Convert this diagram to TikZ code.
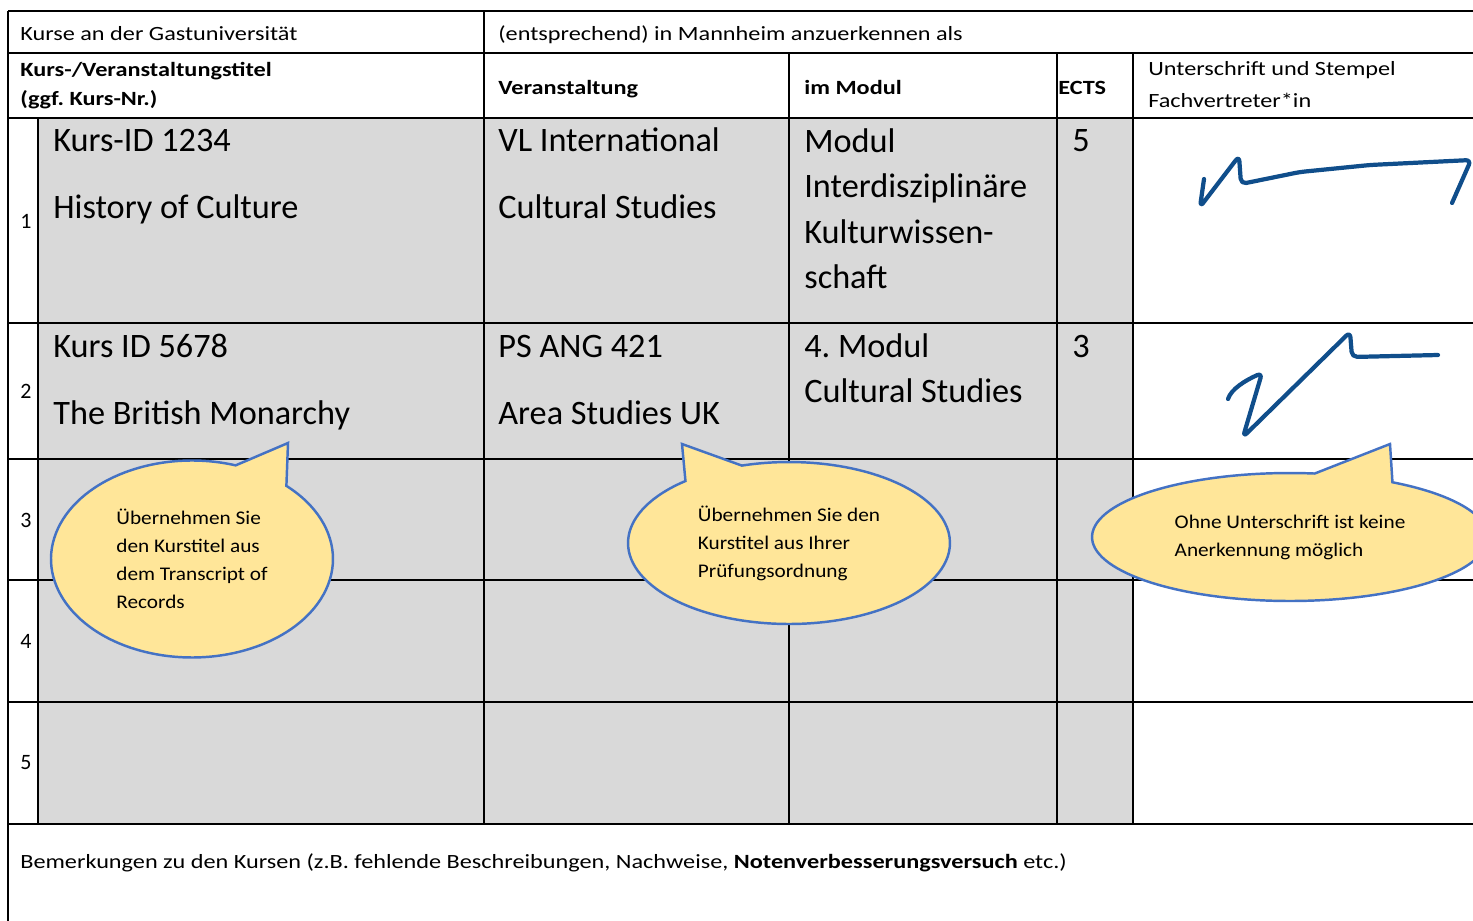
\documentclass[tikz,border=0pt]{standalone}
\usepackage{fontspec}
\setmainfont{Carlito}
\newfontfamily\wideface[FakeStretch=1.2]{Carlito}
\newfontfamily\bubbleface[FakeStretch=1.1]{Carlito}
\usetikzlibrary{shapes.callouts}

\begin{document}
\begin{tikzpicture}
    [x=0.02cm, y=-0.02cm,
    border/.style={line width=1.2pt},
    small/.style={anchor=base west, inner sep=0pt, font=\wideface\fontsize{11.5}{14}\selectfont},
    head/.style={small, font=\wideface\fontsize{11.5}{14}\selectfont\bfseries},
    big/.style={anchor=base west, inner sep=0pt, font=\fontsize{19.5}{24}\selectfont},
    num/.style={inner sep=0pt, font=\fontsize{12.5}{14}\selectfont},
    bubble/.style={ellipse callout, draw=bubbleline, fill=bubblefill, line width=1.4pt,
        inner sep=0pt, align=left, font=\bubbleface\fontsize{11}{15.9}\selectfont},
    sig/.style={draw=sigblue, line width=2.4pt, line cap=round, line join=round, rounded corners=3pt},
    ]
    \definecolor{cellgray}{RGB}{217,217,217}
    \definecolor{bubblefill}{RGB}{255,230,153}
    \definecolor{bubbleline}{RGB}{68,114,196}
    \definecolor{sigblue}{RGB}{16,78,139}

    \useasboundingbox (0,0) rectangle (1473,920);
    \clip (0,0) rectangle (1473,920);

    % grey cells
    \fill[cellgray] (38,118) rectangle (1133,824);

    % rules
    \draw[border] (8,11) -- (1480,11);
    \foreach \y in {53,118,323,459,580,702,824}
        \draw[border] (8,\y) -- (1480,\y);
    \draw[border] (8,11) -- (8,930);
    \draw[border] (484,11) -- (484,824);
    \draw[border] (38,118) -- (38,824);
    \foreach \x in {789,1057,1133}
        \draw[border] (\x,53) -- (\x,824);

    % header
    \node[small] (gast) at (20,40) {Kurse an der Gastuniversität};
    \node[small] (mannheim) at (498,40) {(entsprechend) in Mannheim anzuerkennen als};
    \node[head] (titel) at (20,76) {Kurs-/Veranstaltungstitel};
    \node[head] (kursnr) at (20,105) {(ggf.\ Kurs-Nr.)};
    \node[head] (veran) at (498,94) {Veranstaltung};
    \node[head] (modul) at (804,94) {im Modul};
    \node[head] (ects) at (1058,94) {ECTS};
    \node[small] (unter) at (1148,75) {Unterschrift und Stempel};
    \node[small] (fach) at (1148,107) {Fachvertreter*in};

    % row numbers
    \node[num] (n1) at (26,221) {1};
    \node[num] (n2) at (26,391) {2};
    \node[num] (n3) at (26,520) {3};
    \node[num] (n4) at (26,641) {4};
    \node[num] (n5) at (26,763) {5};

    % row 1
    \node[big] (kurs1) at (53,151) {Kurs-ID 1234};
    \node[big] (hist) at (53,218) {History of Culture};
    \node[big] (vl) at (498,151) {VL International};
    \node[big] (cs1) at (498,218) {Cultural Studies};
    \node[big] (mod1a) at (804,152) {Modul};
    \node[big] (mod1b) at (804,197) {Interdisziplinäre};
    \node[big] (mod1c) at (804,243) {Kulturwissen-};
    \node[big] (mod1d) at (804,288) {schaft};
    \node[big] (ects1) at (1072,151) {5};

    % row 2
    \node[big] (kurs2) at (53,357) {Kurs ID 5678};
    \node[big] (brit) at (53,424) {The British Monarchy};
    \node[big] (ps) at (498,357) {PS ANG 421};
    \node[big] (area) at (498,424) {Area Studies UK};
    \node[big] (mod2a) at (804,357) {4.\ Modul};
    \node[big] (mod2b) at (804,402) {Cultural Studies};
    \node[big] (ects2) at (1072,357) {3};

    % signatures
    \draw[sig] (1204,179) -- (1200,207) -- (1239,156) -- (1241,184) -- (1300,172)
        -- (1370,165) -- (1471,160) -- (1452,203);
    \draw[sig] (1228,399) .. controls (1231,389) and (1246,380) .. (1262,373)
        -- (1243,437) -- (1350,332) -- (1352,357) -- (1438,355);

    % bubbles
    \node[bubble, minimum width=5.64cm, minimum height=3.94cm,
        callout absolute pointer={(288,443)}, callout pointer arc=24] (tipp1) at (192,559)
        {Übernehmen Sie\\den Kurstitel aus\\dem Transcript of\\Records};
    \node[bubble, minimum width=6.44cm, minimum height=3.24cm,
        callout absolute pointer={(682,444)}, callout pointer arc=23] (tipp2) at (789,543)
        {Übernehmen Sie den\\Kurstitel aus Ihrer\\Prüfungsordnung};
    \node[bubble, minimum width=7.92cm, minimum height=2.56cm,
        callout absolute pointer={(1390,444)}, callout pointer arc=24] (tipp3) at (1290,537)
        {Ohne Unterschrift ist keine\\Anerkennung möglich};

    % remarks
    \node[small] (bemerk) at (20,868) {Bemerkungen zu den Kursen (z.B. fehlende Beschreibungen, Nachweise, \textbf{Notenverbesserungsversuch} etc.)};
\end{tikzpicture}
\end{document}
